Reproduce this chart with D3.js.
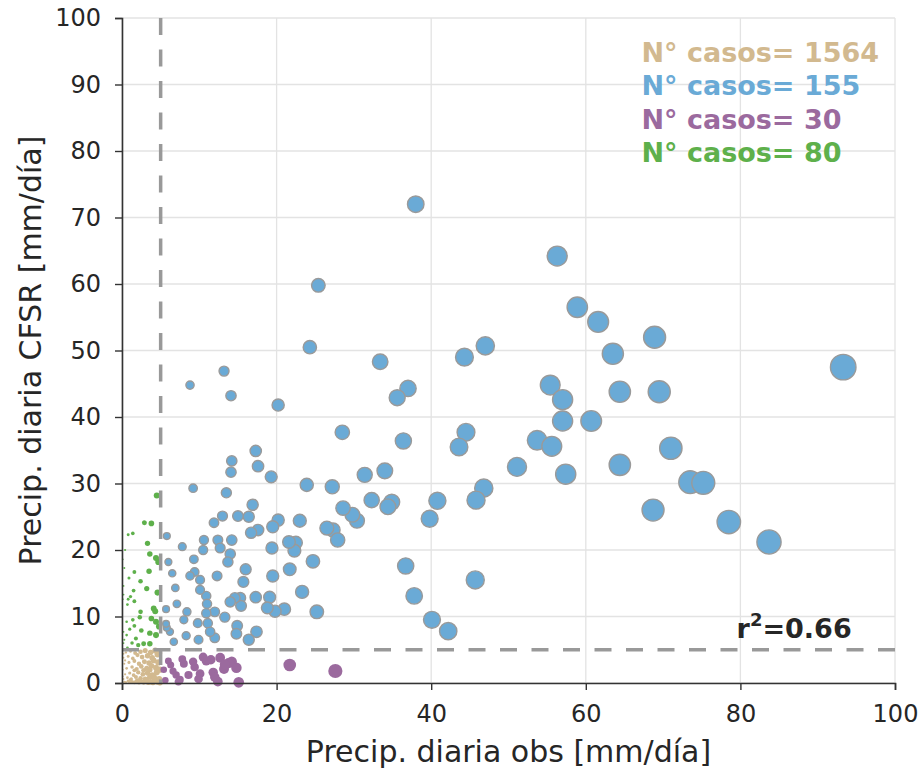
<!DOCTYPE html>
<html>
<head>
<meta charset="utf-8">
<script src="https://cdn.jsdelivr.net/npm/d3@7"></script>
<style>
  body { margin: 0; background: #fff; }
  .container { width: 924px; height: 769px; }
</style>
</head>
<body>
<div class="container"></div>
<script>
// 数据集 (obs, CFSR) mm/día
const blueObs = [93.3,56.3,38.0,58.9,61.6,63.5,68.9,55.4,57.0,64.4,69.5,57.0,60.7,53.7,55.6,71.0,64.4,57.4,51.1,46.8,45.8,73.5,75.2,68.7,78.5,83.7,45.7,47.0,44.3,44.5,43.6,40.8,39.8,40.1,42.2,37.8,36.7,36.4,37.0,35.6,33.4,34.0,34.9,34.4,32.3,31.4,30.4,29.8,28.6,28.5,27.2,27.3,27.9,26.5,25.4,24.3,23.9,23.0,22.5,22.3,21.6,21.7,24.7,25.2,23.3,21.0,20.2,20.2,19.5,19.4,19.3,19.5,19.1,19.8,18.8,17.6,17.6,17.3,16.9,16.4,16.7,17.3,17.4,16.4,16.0,15.7,15.3,15.4,14.6,14.9,14.8,15.0,14.2,14.1,14.1,13.2,14.2,14.0,13.7,14.0,13.3,13.5,13.0,12.4,12.7,12.3,11.9,12.0,12.0,10.6,10.5,10.9,11.0,10.9,11.1,11.4,10.1,10.1,9.3,9.4,9.8,9.9,9.2,8.8,7.8,8.8,8.4,8.0,8.3,7.1,6.9,6.2,5.8,5.8,6.0,6.7,6.5,5.7,5.7];
const blueMod = [47.5,64.2,72.0,56.5,54.3,49.5,52.0,44.8,42.6,43.8,43.8,39.4,39.4,36.5,35.6,35.3,32.8,31.4,32.5,29.3,27.5,30.2,30.1,26.0,24.2,21.2,15.5,50.7,49.0,37.7,35.5,27.4,24.7,9.5,7.8,13.1,17.6,36.4,44.3,42.9,48.3,31.9,27.2,26.5,27.5,31.3,24.4,25.3,26.3,37.7,29.5,23.0,21.5,23.3,59.8,50.5,29.8,24.4,21.1,19.9,21.2,17.1,18.3,10.7,13.7,11.1,41.8,24.5,23.5,20.3,31.0,16.1,12.9,10.8,11.3,23.0,32.6,34.9,26.8,25.0,22.6,12.9,7.7,6.5,17.1,15.2,12.8,11.6,12.8,8.6,7.4,25.1,33.4,31.7,43.2,46.9,21.5,19.4,18.2,12.2,9.9,28.6,25.1,21.5,20.3,16.1,24.1,10.7,6.8,21.5,20.0,13.1,11.9,10.5,9.0,7.7,15.5,14.0,18.6,16.7,9.0,6.5,29.3,44.8,20.5,16.1,10.7,9.5,7.1,11.9,14.3,7.7,8.3,22.1,18.2,6.2,16.5,11.1,8.9];

const purpleObs = [21.7,27.6,15.1,12.4,13.2,14.2,14.8,13.8,11.5,12.7,10.1,9.4,9.2,7.5,7.0,6.3,6.0,8.0,10.9,11.8,5.6,7.3,13.3,9.9,6.6,8.6,12.0,5.4,10.5,7.8];
const purpleMod = [2.7,1.8,0.1,0.2,2.1,3.2,2.3,3.0,3.5,3.8,1.4,2.4,3.2,0.5,1.2,2.7,3.3,2.9,3.3,1.6,0.4,0.2,2.8,0.6,1.8,1.2,0.9,2.0,3.9,3.6];

const greenObs = [4.5,2.9,3.8,1.4,0.8,3.3,3.6,4.4,4.7,0.3,1.6,3.5,2.4,0.2,1.5,0.2,1.1,0.8,0.1,1.6,0.7,4.1,4.3,2.4,3.8,2.3,1.4,0.6,4.4,1.6,4.8,1.0,2.5,0.2,0.6,3.6,4.4,1.8,0.3,1.3,2.8,3.6,2.1,0.2,0.7,0.4,0.1,0.9,3.2,4.6];
const greenMod = [28.2,24.1,24.0,22.5,22.3,21.0,19.4,18.8,18.2,17.3,16.7,16.8,15.3,14.6,13.9,13.3,13.0,12.6,12.6,12.3,11.8,11.2,10.8,10.7,9.7,9.9,9.5,9.2,9.2,8.6,8.5,8.1,7.9,7.7,7.2,7.5,7.2,6.7,6.5,6.0,5.9,5.9,5.7,6.0,5.3,20.0,18.6,15.8,14.2,13.6];

const tanObs = [0.1,0.3,0.5,0.8,1.0,1.3,1.6,1.9,2.2,2.5,2.8,3.1,3.4,3.7,4.0,4.3,4.6,4.9,0.2,0.7,1.2,1.8,2.4,3.0,3.6,4.2,4.8,0.4,1.0,1.5,2.1,2.7,3.3,3.9,4.5,0.1,0.6,1.3,1.9,2.5,3.2,3.8,4.4,4.9,0.3,0.9,1.6,2.2,2.9,3.5,4.1,4.7,0.2,0.8,1.4,2.0,2.6,3.3,3.9,4.6,0.5,1.1,1.7,2.4,3.0,3.7,4.3,4.8,0.1,0.2,0.4,1.1,2.0,3.2,4.1,1.6,2.8,3.6];
const tanMod = [0.1,0.2,0.1,0.3,0.1,0.2,0.1,0.3,0.1,0.2,0.1,0.3,0.1,0.2,0.1,0.3,0.2,0.1,0.6,0.8,0.6,0.9,0.7,0.6,0.9,0.7,0.6,1.3,1.5,1.2,1.6,1.3,1.5,1.2,1.6,2.0,2.2,2.4,2.1,2.5,2.2,2.6,2.3,2.0,2.9,3.1,3.3,2.9,3.2,3.0,3.4,3.1,3.8,4.0,3.7,4.2,3.9,4.1,3.8,4.3,4.6,4.8,4.5,4.7,4.9,4.6,4.9,4.5,1.0,4.4,3.4,0.5,0.4,0.5,1.0,1.9,1.9,2.0];

// 图例文字
const legendTexts = ["N° casos= 1564", "N° casos= 155", "N° casos= 30", "N° casos= 80"];
const legendColors = ["#d2b98f", "#6aaad6", "#9b6a9e", "#5eb04b"];
const xTicks = [0, 20, 40, 60, 80, 100];
const yTicks = [0, 10, 20, 30, 40, 50, 60, 70, 80, 90, 100];
const threshold = 5;
const r2Text = "0.66";

// 尺寸
const W = 924, H = 769;
const margin = { top: 18, right: 29, bottom: 86, left: 122 };
const width = W - margin.left - margin.right;
const height = H - margin.top - margin.bottom;

const svg = d3.select(".container")
  .append("svg")
  .attr("width", W)
  .attr("height", H)
  .style("font-family", "'DejaVu Sans', sans-serif");

const g = svg.append("g").attr("transform", `translate(${margin.left},${margin.top})`);

const x = d3.scaleLinear().domain([0, 100]).range([0, width]);
const y = d3.scaleLinear().domain([0, 100]).range([height, 0]);
// 面积 ∝ obs
const rad = d3.scaleSqrt().domain([0, 100]).range([0, 12.9]);

// 网格
g.append("g")
  .selectAll("line")
  .data(yTicks)
  .join("line")
  .attr("x1", 0).attr("x2", width)
  .attr("y1", d => y(d)).attr("y2", d => y(d))
  .attr("stroke", "#e3e3e3").attr("stroke-width", 1.3);
g.append("g")
  .selectAll("line")
  .data(xTicks)
  .join("line")
  .attr("x1", d => x(d)).attr("x2", d => x(d))
  .attr("y1", 0).attr("y2", height)
  .attr("stroke", "#e3e3e3").attr("stroke-width", 1.3);

// 点
function drawPoints(obs, mod, color, edge) {
  g.append("g")
    .selectAll("circle")
    .data(obs.map((d, i) => ({ o: d, m: mod[i] })))
    .join("circle")
    .attr("cx", d => x(d.o))
    .attr("cy", d => y(d.m))
    .attr("r", d => Math.max(0.9, rad(d.o) + 0.3))
    .attr("fill", color)
    .attr("stroke", edge ? "#9a9a9a" : "none")
    .attr("stroke-width", edge ? 1.4 : 0);
}
drawPoints(tanObs, tanMod, legendColors[0], false);
drawPoints(purpleObs, purpleMod, legendColors[2], false);
drawPoints(greenObs, greenMod, legendColors[3], false);
drawPoints(blueObs, blueMod, legendColors[1], true);

// 阈值虚线
g.append("line")
  .attr("x1", x(threshold)).attr("x2", x(threshold))
  .attr("y1", y(100)).attr("y2", y(0))
  .attr("stroke", "#999").attr("stroke-width", 3.5)
  .attr("stroke-dasharray", "17,14.5");
g.append("line")
  .attr("x1", x(0)).attr("x2", x(100))
  .attr("y1", y(threshold)).attr("y2", y(threshold))
  .attr("stroke", "#999").attr("stroke-width", 3.5)
  .attr("stroke-dasharray", "17,14.5");

// 坐标轴
const xAxis = g.append("g")
  .attr("transform", `translate(0,${height})`)
  .call(d3.axisBottom(x).tickValues(xTicks).tickSize(7).tickPadding(15));
const yAxis = g.append("g")
  .call(d3.axisLeft(y).tickValues(yTicks).tickSize(7).tickPadding(14));
[xAxis, yAxis].forEach(ax => {
  ax.select(".domain").attr("stroke", "#333").attr("stroke-width", 1.6);
  ax.selectAll(".tick line").attr("stroke", "#333").attr("stroke-width", 1.4);
  ax.selectAll(".tick text")
    .style("font-family", "'DejaVu Sans', sans-serif")
    .style("font-size", "24px")
    .attr("fill", "#262626");
});

// 轴标题
svg.append("text")
  .attr("x", margin.left + width / 2)
  .attr("y", H - 7)
  .attr("text-anchor", "middle")
  .attr("fill", "#262626")
  .style("font-size", "30px")
  .text("Precip. diaria obs [mm/día]");
svg.append("text")
  .attr("transform", `translate(41,${margin.top + height / 2}) rotate(-90)`)
  .attr("text-anchor", "middle")
  .attr("fill", "#262626")
  .style("font-size", "30px")
  .text("Precip. diaria CFSR [mm/día]");

// 图例
g.append("g")
  .selectAll("text")
  .data(legendTexts)
  .join("text")
  .attr("x", x(67.2))
  .attr("y", (d, i) => 44 + i * 33.3)
  .attr("fill", (d, i) => legendColors[i])
  .style("font-size", "27px")
  .style("font-weight", "bold")
  .text(d => d);

// r²
const r2 = g.append("text")
  .attr("x", x(94.4))
  .attr("y", y(threshold) - 12)
  .attr("text-anchor", "end")
  .attr("fill", "#262626")
  .style("font-size", "27px")
  .style("font-weight", "bold");
r2.append("tspan").text("r");
r2.append("tspan").attr("dy", -12).style("font-size", "18px").text("2");
r2.append("tspan").attr("dy", 12).text("=" + r2Text);
</script>
</body>
</html>
